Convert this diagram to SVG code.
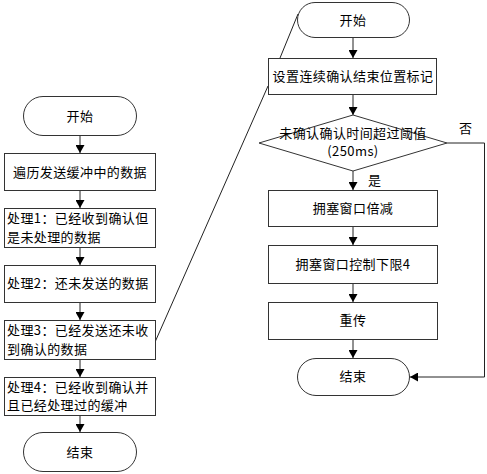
<svg xmlns="http://www.w3.org/2000/svg" width="487" height="474" viewBox="0 0 487 474">
<style>
.s{fill:#fff;stroke:#333;stroke-width:1}
.t{font-family:"Noto Sans CJK SC","Liberation Sans",sans-serif;font-size:13px;fill:#000;letter-spacing:0.4px}
.m{text-anchor:middle}
.c{fill:none;stroke:#222;stroke-width:1}
</style>
<defs>
<marker id="ah" markerWidth="8" markerHeight="9" refX="8" refY="4.5" orient="auto" markerUnits="userSpaceOnUse">
<path d="M0,0 L8,4.5 L0,9 Z" fill="#000"/>
</marker>
</defs>
<rect width="487" height="474" fill="#fff"/>
<g id="connectors">
<line class="c" x1="80" y1="135" x2="80" y2="153" marker-end="url(#ah)"/>
<line class="c" x1="80" y1="190" x2="80" y2="208" marker-end="url(#ah)"/>
<line class="c" x1="80" y1="247" x2="80" y2="265" marker-end="url(#ah)"/>
<line class="c" x1="80" y1="302" x2="80" y2="320" marker-end="url(#ah)"/>
<line class="c" x1="80" y1="359" x2="80" y2="377" marker-end="url(#ah)"/>
<line class="c" x1="80" y1="415" x2="80" y2="432" marker-end="url(#ah)"/>
<line class="c" x1="353" y1="37" x2="353" y2="58" marker-end="url(#ah)"/>
<line class="c" x1="353" y1="94" x2="353" y2="115" marker-end="url(#ah)"/>
<line class="c" x1="353" y1="171" x2="353" y2="190" marker-end="url(#ah)"/>
<line class="c" x1="353" y1="226" x2="353" y2="245" marker-end="url(#ah)"/>
<line class="c" x1="353" y1="283" x2="353" y2="302" marker-end="url(#ah)"/>
<line class="c" x1="353" y1="339" x2="353" y2="358" marker-end="url(#ah)"/>
<polyline class="c" points="447,143 484.5,143 484.5,377 410,377" marker-end="url(#ah)"/>
<line class="c" x1="155.5" y1="341" x2="268" y2="86"/>
<line class="c" x1="280" y1="58" x2="298" y2="14"/>
<text class="t" x="459" y="133">否</text>
<text class="t" x="368" y="185">是</text>
</g>
<g id="start_left"><rect class="s" x="23.5" y="96.5" width="113" height="39" rx="19.5"/><text class="t m" x="80" y="121">开始</text></g>
<g id="traverse"><rect class="s" x="4.5" y="153.5" width="151" height="37"/><text class="t m" x="80" y="177">遍历发送缓冲中的数据</text></g>
<g id="case1"><rect class="s" x="4.5" y="208.5" width="151" height="39"/><text class="t" x="7" y="223">处理1：已经收到确认但</text><text class="t" x="7" y="242">是未处理的数据</text></g>
<g id="case2"><rect class="s" x="4.5" y="265.5" width="151" height="37"/><text class="t" x="7" y="288">处理2：还未发送的数据</text></g>
<g id="case3"><rect class="s" x="4.5" y="320.5" width="151" height="39"/><text class="t" x="7" y="335">处理3：已经发送还未收</text><text class="t" x="7" y="354">到确认的数据</text></g>
<g id="case4"><rect class="s" x="4.5" y="377.5" width="151" height="38"/><text class="t" x="7" y="392">处理4：已经收到确认并</text><text class="t" x="7" y="410">且已经处理过的缓冲</text></g>
<g id="end_left"><rect class="s" x="23.5" y="432.5" width="113" height="39" rx="19.5"/><text class="t m" x="80" y="457">结束</text></g>
<g id="start_right"><rect class="s" x="297.5" y="2.5" width="112" height="35" rx="17.5"/><text class="t m" x="353" y="25">开始</text></g>
<g id="set_mark"><rect class="s" x="268.5" y="58.5" width="168" height="36"/><text class="t m" x="353" y="81">设置连续确认结束位置标记</text></g>
<g id="decision"><polygon class="s" points="353,115 447,143 353,171 259,143"/><text class="t m" x="353" y="138">未确认确认时间超过阈值</text><text class="t m" x="353" y="156">(250ms)</text></g>
<g id="halve"><rect class="s" x="268.5" y="190.5" width="169" height="36"/><text class="t m" x="353" y="213">拥塞窗口倍减</text></g>
<g id="lower_limit"><rect class="s" x="268.5" y="245.5" width="169" height="38"/><text class="t m" x="353" y="269">拥塞窗口控制下限4</text></g>
<g id="retransmit"><rect class="s" x="268.5" y="302.5" width="169" height="37"/><text class="t m" x="353" y="325">重传</text></g>
<g id="end_right"><rect class="s" x="297.5" y="358.5" width="112" height="37" rx="18.5"/><text class="t m" x="353" y="381">结束</text></g>
</svg>
